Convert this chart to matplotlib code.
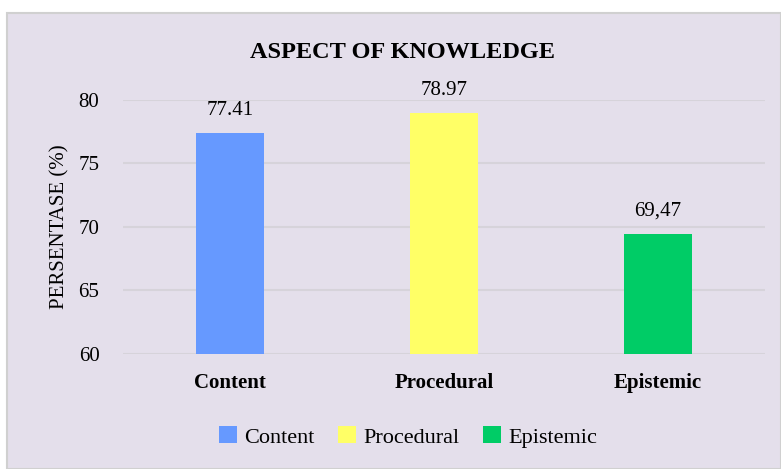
import matplotlib.pyplot as plt
from matplotlib.patches import Rectangle, Patch

# Data
categories = ['Content', 'Procedural', 'Epistemic']
values = [77.41, 78.97, 69.47]
value_labels = ['77.41', '78.97', '69,47']
colors = ['#6699FF', '#FFFF66', '#00CC66']
yticks = [60, 65, 70, 75, 80]

plt.rcParams['font.family'] = ['Liberation Serif', 'DejaVu Serif']

bg = '#E4DFEB'
fs = 15
fig = plt.figure(figsize=(7.81, 4.69), dpi=100)
fig.patch.set_facecolor('white')

# chart area panel with grey border
panel = Rectangle((7 / 781, 0), 1 - 7 / 781, 1 - 13 / 469,
                  transform=fig.transFigure, facecolor=bg,
                  edgecolor='#D0D0D0', linewidth=1.5, zorder=-10)
fig.patches.append(panel)

ax = fig.add_axes([123 / 781, 1 - 354 / 469, (765 - 123) / 781, (354 - 100) / 469])
ax.set_facecolor('none')

x = range(len(categories))
ax.bar(x, [v - 60 for v in values], bottom=60, width=0.315, color=colors, zorder=3)
for i, (v, lab) in enumerate(zip(values, value_labels)):
    ax.text(i, v + 1.0, lab, ha='center', va='bottom', fontsize=fs)

ax.set_xlim(-0.5, 2.5)
ax.set_ylim(60, 80)
ax.set_yticks(yticks)
ax.tick_params(axis='y', length=0, labelsize=fs, pad=17)
ax.tick_params(axis='x', length=0, pad=14)
ax.set_xticks(list(x))
ax.set_xticklabels(categories, fontsize=fs, fontweight='bold')
ax.yaxis.grid(True, color='#D6D3DA', linewidth=1.5, zorder=0)
for s in ax.spines.values():
    s.set_visible(False)

ax.set_ylabel('PERSENTASE (%)', fontsize=fs)
ax.yaxis.set_label_coords(-0.083, 0.5)

fig.text(403 / 781, 1 - 52 / 469, 'ASPECT OF KNOWLEDGE', ha='center', va='center',
         fontsize=17.5, fontweight='bold')

handles = [Patch(facecolor=c, label=n) for c, n in zip(colors, categories)]
fig.legend(handles=handles, loc='center', bbox_to_anchor=(408 / 781, 1 - 437 / 469),
           ncol=3, frameon=False, fontsize=16, handlelength=0.8, handleheight=0.8,
           handletextpad=0.3, columnspacing=1.1)

plt.savefig('out.png', dpi=100)
